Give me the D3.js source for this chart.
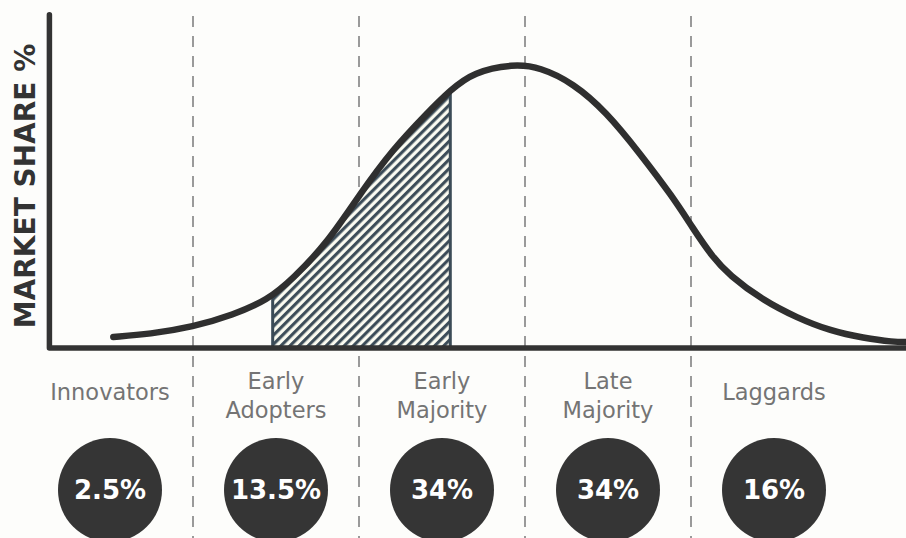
<!DOCTYPE html>
<html>
<head>
<meta charset="utf-8">
<script src="https://cdn.jsdelivr.net/npm/d3@7"></script>
<style>
  html, body { margin: 0; padding: 0; background: #fdfdfb; }
  svg { display: block; }
</style>
</head>
<body>
<svg id="chart" width="906" height="538"></svg>
<script>
// Adoption curve, x in standard deviations from the mean, y as relative market share
const curveX = [-2.48, -2.26, -2.0, -1.76, -1.55, -1.40, -1.19, -0.99, -0.80, -0.59, -0.45, -0.31, -0.07,
                0.09, 0.29, 0.49, 0.69, 0.89, 1.01, 1.13, 1.23, 1.43, 1.64, 1.84, 2.04, 2.22, 2.30];
const curveShare = [3.9, 4.9, 7.4, 11.6, 16.9, 24.3, 37.0, 54.6, 69.7, 82.7, 90.8, 97.2, 100,
                    98.9, 93.3, 83.1, 68.7, 53.2, 42.3, 32.0, 25.7, 16.9, 10.6, 6.0, 3.5, 2.1, 2.1];

// Segment boundaries and segments
const boundaries = [-2, -1, 0, 1];
const segmentCenters = [-2.5, -1.5, -0.5, 0.5, 1.5];
const segmentNames = [["Innovators"], ["Early", "Adopters"], ["Early", "Majority"], ["Late", "Majority"], ["Laggards"]];
const segmentShares = [2.5, 13.5, 34, 34, 16];

// Highlighted (hatched) stretch of the curve
const highlightRange = [-1.52, -0.45];

const axisTitle = "MARKET SHARE %";

const svg = d3.select("#chart");
const W = 906, H = 538;

const x = d3.scaleLinear().domain([-2, 1]).range([193, 691]);
const y = d3.scaleLinear().domain([0, 100]).range([348, 64]);

const xMin = -2.865, yTop = 117.3;

const pts = curveX.map((d, i) => ({ x: d, v: curveShare[i] }));

// hatch pattern
const defs = svg.append("defs");
const pat = defs.append("pattern")
  .attr("id", "hatch")
  .attr("patternUnits", "userSpaceOnUse")
  .attr("width", 6.4).attr("height", 6.4)
  .attr("patternTransform", "rotate(45)");
pat.append("rect").attr("width", 6.4).attr("height", 6.4).attr("fill", "#fbfbf1");
pat.append("line").attr("x1", 1.6).attr("y1", 0).attr("x2", 1.6).attr("y2", 6.4)
  .attr("stroke", "#3b4b57").attr("stroke-width", 3.1);

const line = d3.line().x(d => x(d.x)).y(d => y(d.v)).curve(d3.curveBasis);
const area = d3.area().x(d => x(d.x)).y0(y(0)).y1(d => y(d.v)).curve(d3.curveBasis);

defs.append("clipPath").attr("id", "rangeClip")
  .append("rect")
  .attr("x", x(highlightRange[0])).attr("y", 0)
  .attr("width", x(highlightRange[1]) - x(highlightRange[0]))
  .attr("height", y(0));
defs.append("clipPath").attr("id", "underCurve")
  .append("path").attr("d", area(pts));

// dashed segment dividers
svg.append("g").selectAll("line")
  .data(boundaries).join("line")
  .attr("x1", d => x(d)).attr("x2", d => x(d))
  .attr("y1", 16).attr("y2", H)
  .attr("stroke", "#9a9a9a").attr("stroke-width", 2)
  .attr("stroke-dasharray", "11 9");

// hatched area
svg.append("path")
  .attr("d", area(pts))
  .attr("fill", "url(#hatch)")
  .attr("clip-path", "url(#rangeClip)");
svg.append("g").attr("clip-path", "url(#underCurve)")
  .append("rect")
  .attr("x", x(highlightRange[0])).attr("y", 0)
  .attr("width", x(highlightRange[1]) - x(highlightRange[0]))
  .attr("height", y(0))
  .attr("fill", "none").attr("stroke", "#3b4b57").attr("stroke-width", 3);

// axes
svg.append("path")
  .attr("d", `M${x(xMin)},${y(yTop)}L${x(xMin)},${y(0)}L${W},${y(0)}`)
  .attr("fill", "none").attr("stroke", "#333").attr("stroke-width", 5.5)
  .attr("stroke-linecap", "round").attr("stroke-linejoin", "round");

// curve
svg.append("path")
  .attr("d", line(pts))
  .attr("fill", "none").attr("stroke", "#2f2f2f").attr("stroke-width", 6.5)
  .attr("stroke-linecap", "round");

// axis title
svg.append("text")
  .attr("transform", `translate(35,${186}) rotate(-90)`)
  .attr("text-anchor", "middle")
  .attr("font-family", "DejaVu Sans").attr("font-weight", "bold")
  .attr("font-size", 28).attr("fill", "#333")
  .text(axisTitle);

// segment labels
const lab = svg.append("g")
  .attr("font-family", "DejaVu Sans").attr("font-size", 22.5)
  .attr("fill", "#747474").attr("text-anchor", "middle");
segmentNames.forEach((lines, i) => {
  const t = lab.append("text").attr("x", x(segmentCenters[i]));
  if (lines.length === 1) {
    t.attr("y", 400).text(lines[0]);
  } else {
    lines.forEach((s, j) => t.append("tspan").attr("x", x(segmentCenters[i])).attr("y", 389 + j * 29).text(s));
  }
});

// share circles
const g = svg.append("g");
g.selectAll("circle").data(segmentShares).join("circle")
  .attr("cx", (d, i) => x(segmentCenters[i])).attr("cy", 490).attr("r", 52)
  .attr("fill", "#353535");
g.selectAll("text").data(segmentShares).join("text")
  .attr("x", (d, i) => x(segmentCenters[i])).attr("y", 499)
  .attr("text-anchor", "middle")
  .attr("font-family", "DejaVu Sans").attr("font-weight", "bold")
  .attr("font-size", 26).attr("fill", "#ffffff")
  .text(d => d + "%");
</script>
</body>
</html>
